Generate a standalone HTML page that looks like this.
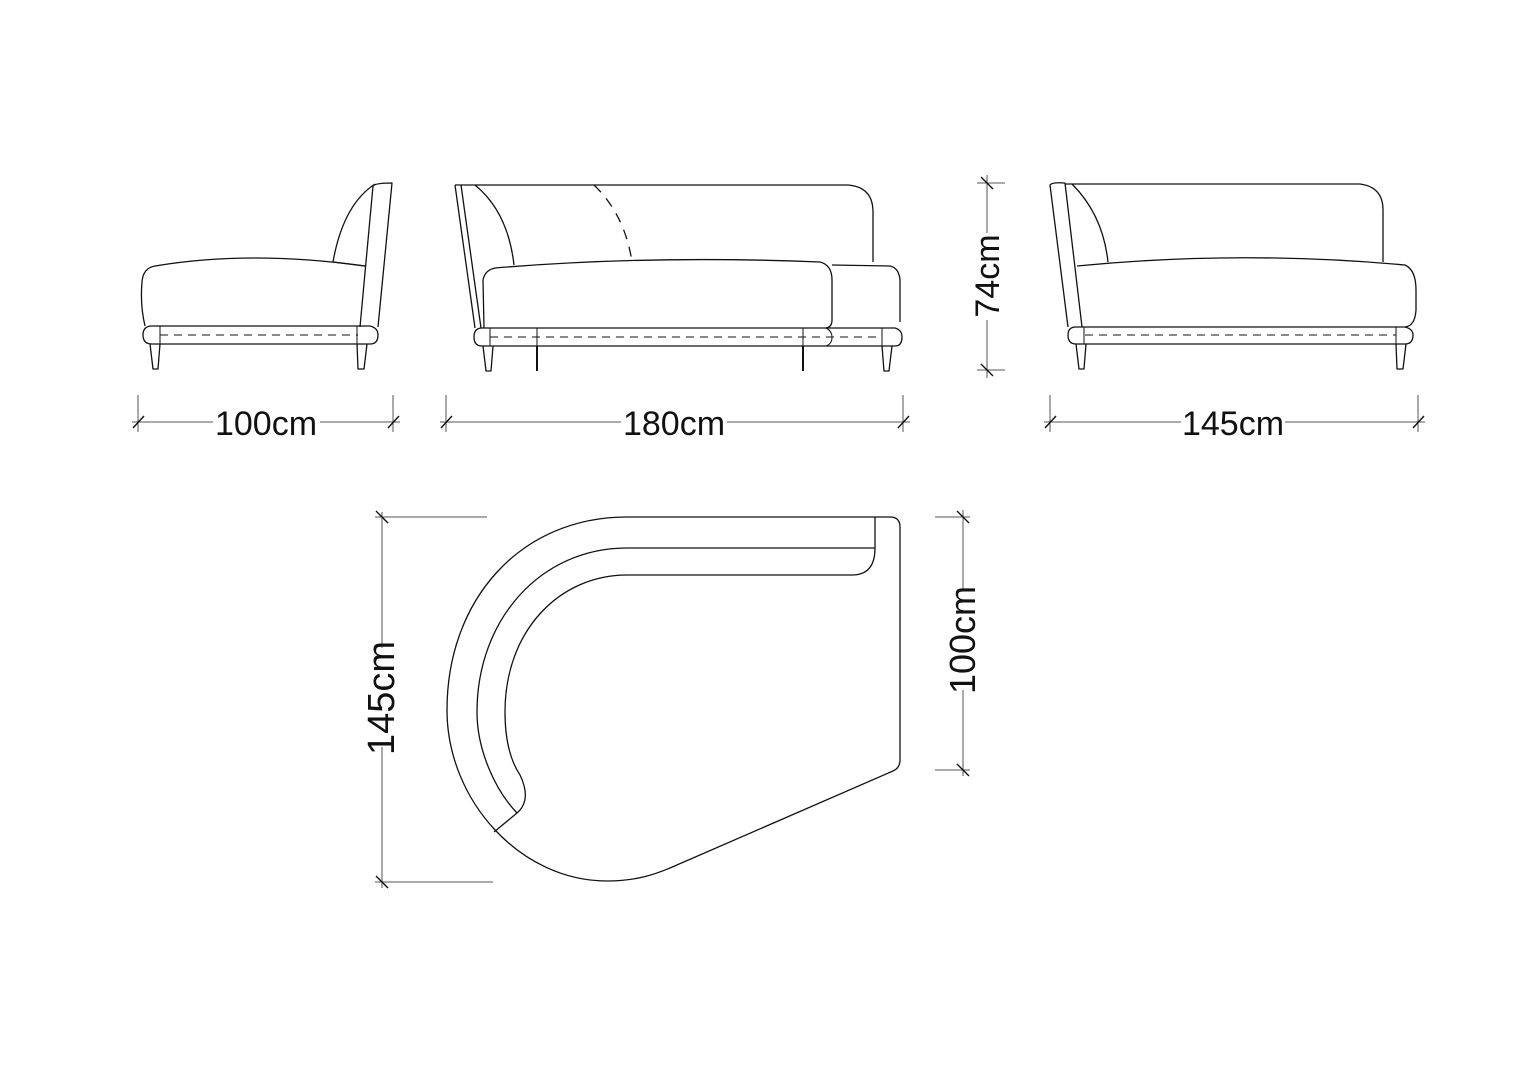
<!DOCTYPE html>
<html><head><meta charset="utf-8"><style>
html,body{margin:0;padding:0;background:#fff;}
svg{display:block;}
text{font-family:"Liberation Sans",sans-serif;fill:#111;}
</style></head><body>
<svg width="1528" height="1080" viewBox="0 0 1528 1080" xmlns="http://www.w3.org/2000/svg">
<g fill="none" stroke="#111" stroke-width="1.3" stroke-linejoin="round">
<!-- View 1 -->
<path d="M365,266 Q250,250 155,266 Q143,268 142,282 Q140,305 145,326"/>
<path d="M373,186 Q375,183 392,183 L378,327"/>
<path d="M373,186 L360,327"/>
<path d="M375,184 Q343,205 333,262 L365,266"/>
<path d="M152,326 L370,326 Q378,328 378,335 Q378,344 370,344 L152,344 Q143,344 143,335 Q143,326 152,326 Z"/>
<path d="M160,335 L358,335" stroke-dasharray="8,6" stroke-width="1"/>
<path d="M160,326 V344 M357,326 V344" stroke-width="1"/>
<path d="M150,344 L153,369 L158,369 L160,344 M357,344 L358,369 L364,369 L367,344"/>
<!-- View 2 -->
<path d="M455,185 L475,328 M461,185 L481,328"/>
<path d="M455,185 L848,185 Q873,187 873,212 L873,262"/>
<path d="M475,185 Q508,212 514,265"/>
<path d="M594,185 Q625,215 632,262" stroke-dasharray="10,8"/>
<path d="M484,328 L483,280 Q485,270 495,268 Q650,255 820,262 Q832,265 832,280 L832,320 Q832,327 826,328"/>
<path d="M832,265 L890,266 Q899,268 900,280 L900,322"/>
<path d="M484,328 L895,328 Q902,330 902,337 Q902,346 895,346 L482,346 Q474,346 474,337 Q474,328 482,328 Z"/>
<path d="M826,328 Q832,331 832,337 Q832,344 826,346" stroke-width="1"/>
<path d="M490,337 L882,337" stroke-dasharray="8,6" stroke-width="1"/>
<path d="M490,328 V346 M537,328 V346 M803,328 V346 M882,328 V346" stroke-width="1"/>
<path d="M483,346 L486,371 L491,371 L493,346 M882,346 L884,371 L889,371 L892,346"/>
<path d="M537,346 V371 M803,346 V371" stroke-width="2"/>
<!-- View 3 -->
<path d="M1065,183 Q1052,182 1050,185 L1068,327 M1065,183 L1082,327"/>
<path d="M1065,184 L1360,184 Q1383,187 1383,210 L1383,262"/>
<path d="M1072,184 Q1103,215 1108,262"/>
<path d="M1077,266 Q1240,250 1405,265 Q1416,270 1416,290 L1416,310 Q1415,326 1405,327"/>
<path d="M1076,327 L1405,327 Q1413,329 1413,335 Q1413,344 1405,344 L1076,344 Q1068,344 1068,335 Q1068,327 1076,327 Z"/>
<path d="M1085,335 L1396,335" stroke-dasharray="8,6" stroke-width="1"/>
<path d="M1084,327 V344 M1396,327 V344" stroke-width="1"/>
<path d="M1076,344 L1079,369 L1084,369 L1086,344 M1396,344 L1397,369 L1403,369 L1406,344"/>
<!-- Plan -->
<path d="M627,517 C520,517 447,600 447,710 C447,800 520,881 607,881 C640,881 660,872 670,868 L893,771 Q900,768 900,760 L900,527 Q900,517 890,517 Z"/>
<path d="M627,548 L875,548 M875,517 L875,548 Q875,575 852,575 L627,575"/>
<path d="M627,548 C540,548 477,620 477,712 C477,750 495,790 517,813"/>
<path d="M627,575 C560,575 505,630 505,712 C505,740 510,760 520,775 Q532,800 517,813 L494,832"/>
</g>
<!-- Dimensions -->
<g fill="none" stroke="#555" stroke-width="1">
<path d="M138,395 V432 M393,395 V432 M132,422 L213,422 M320,422 L400,422"/>
<path d="M133,428 L144,416 M388,428 L399,416" stroke="#111" stroke-width="1.4"/>
<path d="M446,395 V432 M903,395 V432 M440,422 L621,422 M727,422 L910,422"/>
<path d="M441,428 L452,416 M898,428 L909,416" stroke="#111" stroke-width="1.4"/>
<path d="M1050,395 V432 M1418,395 V432 M1044,422 L1181,422 M1285,422 L1425,422"/>
<path d="M1045,428 L1056,416 M1413,428 L1424,416" stroke="#111" stroke-width="1.4"/>
<path d="M977,183 L1005,183 M977,370 L1005,370 M987,175 V233 M987,320 V378"/>
<path d="M981,177 L993,189 M981,364 L993,376" stroke="#111" stroke-width="1.4"/>
<path d="M375,517 L487,517 M375,882 L493,882 M382,512 V648 M382,747 V888"/>
<path d="M376,511 L388,523 M376,876 L388,888" stroke="#111" stroke-width="1.4"/>
<path d="M935,517 L970,517 M935,770 L970,770 M963,510 V590 M963,690 V776"/>
<path d="M957,511 L969,523 M957,764 L969,776" stroke="#111" stroke-width="1.4"/>
</g>
<text x="266" y="435" font-size="34" text-anchor="middle">100cm</text>
<text x="674" y="435" font-size="34" text-anchor="middle">180cm</text>
<text x="1233" y="435" font-size="34" text-anchor="middle">145cm</text>
<text transform="translate(999,276) rotate(-90)" font-size="34" text-anchor="middle">74cm</text>
<text transform="translate(394,698) rotate(-90)" font-size="38" text-anchor="middle">145cm</text>
<text transform="translate(975,640) rotate(-90)" font-size="36" text-anchor="middle">100cm</text>
</svg>
</body></html>
